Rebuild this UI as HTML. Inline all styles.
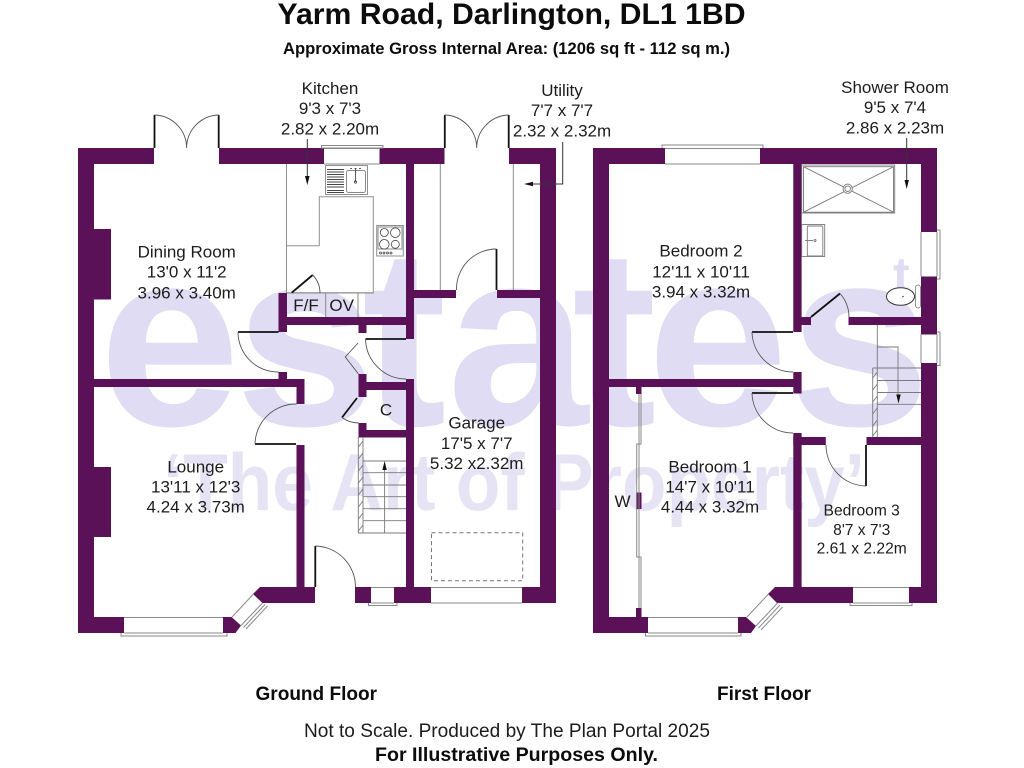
<!DOCTYPE html>
<html><head><meta charset="utf-8"><style>
html,body{margin:0;padding:0;background:#fff;width:1024px;height:768px;overflow:hidden}
svg{display:block}
text{font-family:"Liberation Sans",Arial,sans-serif;fill:#1c1c1c}
.l{font-size:17px;text-anchor:middle}
.b{font-weight:bold;fill:#0c0c0c}
.w{fill:#5a1158;stroke:none}
.t{fill:none;stroke:#8a8a8a;stroke-width:1}
.d{fill:none;stroke:#555;stroke-width:.9}
.g{fill:none;stroke:#7a7a7a;stroke-width:.9}
.k{fill:none;stroke:#111;stroke-width:1.8}
.u{fill:#fff;stroke:#8f8f8f;stroke-width:1}
.wm{fill:#dfdcf3;font-weight:bold;font-size:254px}
.wm2{fill:#e6e4f4;font-weight:bold;font-size:81px}
</style></head><body>
<svg width="1024" height="768" viewBox="0 0 1024 768" xmlns="http://www.w3.org/2000/svg">
<rect width="1024" height="768" fill="#fff"/>
<!-- watermark -->
<text class="wm" y="425" x="99 235 362 447 572 647 789">estates</text>
<text class="wm" style="font-size:50px" x="893" y="292">t</text>
<text class="wm2" x="163" y="510" textLength="702" lengthAdjust="spacingAndGlyphs">‘The Art of Property’</text>

<!-- GROUND FLOOR units -->
<path class="u" d="M286.5 164V245.7H319.3V196.7H373.3V292.7H286.5V245.7"/>
<path class="t" d="M325.7 293V317M358 293V317M373.3 293H286"/>
<!-- sink -->
<rect class="u" x="325.5" y="165.5" width="42" height="29"/>
<path stroke="#444" stroke-width="1" fill="none" d="M327 169.5H344M327 172H344M327 174.5H344M327 177H344M327 179.5H344M327 182H344M327 184.5H344M327 187H344M327 190.5H344M327 192.5H344"/>
<rect class="t" x="346.5" y="170.5" width="19" height="22" rx="2" stroke="#444"/>
<path stroke="#333" stroke-width=".8" fill="none" d="M355.5 168V182M350 168.5h2M354.5 168.5h2M359 168.5h2"/>
<circle cx="355.5" cy="182" r="1.2" fill="none" stroke="#333" stroke-width=".7"/>
<!-- hob -->
<rect class="u" x="376.7" y="225.5" width="26.6" height="30.5"/>
<rect class="t" x="378" y="227" width="24" height="22" stroke="#777" stroke-width=".6"/>
<g fill="none" stroke="#444" stroke-width=".8">
<circle cx="384.3" cy="232.5" r="4"/><circle cx="395.3" cy="232.7" r="4.8"/><circle cx="384.3" cy="244.3" r="4.8"/><circle cx="395.3" cy="244.3" r="4"/>
<circle cx="380.5" cy="253" r="1"/><circle cx="384" cy="253" r="1"/><circle cx="387.5" cy="253" r="1"/><circle cx="391" cy="253" r="1"/>
</g>

<!-- Ground walls -->
<g class="w">
<path d="M78 148H154V164H94V617H124V633H78Z"/>
<rect x="94" y="229" width="17" height="70.5"/>
<rect x="94" y="467" width="17" height="70"/>
<rect x="219" y="148" width="105" height="16"/>
<rect x="379.5" y="148" width="65" height="16"/>
<path d="M509 148H556V603H522V587H540V164H509Z"/>
<rect x="406" y="164" width="8" height="175"/>
<rect x="406" y="379" width="8" height="224"/>
<rect x="414" y="290" width="42" height="8"/>
<rect x="497" y="290" width="43" height="8"/>
<rect x="355" y="587" width="16" height="16"/>
<rect x="394" y="587" width="37" height="16"/>
<rect x="278.5" y="293" width="8.5" height="39"/>
<rect x="287" y="317" width="119" height="8"/>
<rect x="358.5" y="325" width="8" height="8"/>
<rect x="94" y="379" width="210" height="8"/>
<rect x="278.5" y="372" width="8.5" height="8"/>
<rect x="296.5" y="379" width="8" height="25"/>
<rect x="296.5" y="445" width="8" height="142"/>
<path d="M260 587H315V603H262.5L253 594Z"/>
<path d="M223 617H231.5L241 625.5L235.5 633H223Z"/>
<rect x="358.5" y="374" width="8" height="23"/>
<rect x="366" y="382" width="41" height="8"/>
<rect x="358.5" y="423" width="8" height="14.5"/>
<rect x="358.5" y="430" width="48" height="7.5"/>
</g>

<!-- Ground windows -->
<g class="t">
<path d="M324 148.5H380M321.5 145.5H383V148H321.5Z M324 164H380"/>
<path d="M124 617.5H223M124 633H223M121 633V636H227V633"/>
<path d="M371 587.5H394M371 603H394M368.5 603V605.5H397V603"/>
<path d="M431 587.5H522M431 603H522"/>
<path d="M232 617L253.5 594M241 625.5L262.5 603M243.5 627.5L265 604.5M246 629L267.5 606"/>
</g>
<!-- french doors -->
<g class="k"><path d="M154.5 115V148M218.7 115V148M444.8 115V148M508.7 115V148"/></g>
<g class="d">
<path d="M154.5 115A33 33 0 0 1 186.6 148M218.7 115A33 33 0 0 0 186.6 148"/>
<path d="M444.8 115A33 33 0 0 1 476.7 148M508.7 115A33 33 0 0 0 476.7 148"/>
</g>
<!-- interior doors -->
<g class="k">
<path d="M496.5 249V290"/>
<path d="M238 332H278.5"/>
<path d="M255 444H296"/>
<path d="M365.5 339H406"/>
<path d="M342 417.5L357 398"/>
<path d="M291.7 292.7L312.7 275"/>
<path d="M315.3 546V587"/>
</g>
<g class="d">
<path d="M496.5 249A40 40 0 0 0 456.5 290"/>
<path d="M238 332A40 40 0 0 0 278.5 372"/>
<path d="M296.5 404A41 41 0 0 0 255 444"/>
<path d="M365.5 339A41 41 0 0 0 406 379"/>
<path d="M342 417.5A28 28 0 0 0 359 423"/>
<path d="M312.7 275A26 26 0 0 1 320 293"/>
<path d="M315.3 546A41 41 0 0 1 355.5 587"/>
<path d="M358 343L345.3 357L358.5 374"/>
</g>
<!-- utility lines -->
<path class="t" d="M440.3 164V290M513.3 164V290"/>
<!-- stairs ground -->
<g class="g">
<path d="M358.3 437V533H406M363 437V533M363 461H406M363 472.7H406M363 485H406M363 496.7H406M363 508.7H406M363 520.7H406M384.6 533V466"/>
<path d="M358.3 447L363 441M358.3 459L363 453M358.3 471L363 465M358.3 483L363 477M358.3 495L363 489M358.3 507L363 501M358.3 519L363 513M358.3 531L363 525"/>
</g>
<path d="M384.6 461L382.4 470H386.8Z" fill="#111"/>
<!-- garage dashed -->
<rect x="431.5" y="532.7" width="91.2" height="48" fill="none" stroke="#777" stroke-width="1" stroke-dasharray="4 3"/>
<!-- arrows -->
<path d="M307.3 139V182" stroke="#333" stroke-width="1" fill="none"/>
<path d="M307.3 185L305 176H309.6Z" fill="#111"/>
<path d="M562.7 142V184H530" stroke="#333" stroke-width="1" fill="none"/>
<path d="M524 184L533 181.8V186.2Z" fill="#111"/>

<!-- FIRST FLOOR -->
<g class="w">
<path d="M593 148H665V164H609V617H648V633H593Z"/>
<path d="M760 148H937V232H921V164H760Z"/>
<rect x="921" y="276.5" width="16" height="58"/>
<path d="M921 363H937V603H909V587H921Z"/>
<rect x="793.3" y="164" width="8.3" height="168"/>
<rect x="801" y="317" width="10" height="8"/>
<rect x="848.5" y="317" width="73" height="8"/>
<rect x="793.3" y="372" width="8.3" height="21.5"/>
<rect x="609" y="379" width="185" height="8"/>
<rect x="636" y="387" width="5.5" height="7"/>
<rect x="636" y="492.5" width="5.5" height="16.5"/>
<rect x="636" y="608" width="5.5" height="9"/>
<rect x="793.3" y="433" width="8.3" height="155"/>
<rect x="793.3" y="437" width="32.5" height="8"/>
<rect x="866.5" y="437" width="55" height="8"/>
<path d="M775 587H853V603H777L768 594Z"/>
<path d="M738 617H746L756 626L751 633H738Z"/>
</g>
<g class="t">
<path d="M665 148.5H760M665 164H760M662 148V145H763V148"/>
<path d="M921 232V276.5M937 232V276.5M937 230H940V279H937"/>
<path d="M921 334V363M937 334V363M937 332H940V365.5H937"/>
<path d="M648 617.5H738M648 633H738M645.5 633V636H741V633"/>
<path d="M853 587.5H909M853 603H909M850 603V605.5H912V603"/>
<path d="M747 617L768.5 594M756 626L777.5 603M758.5 628L780 605M761 630L782.5 607"/>
<path d="M639 394V444H636.7V557H639V608M641 394V444H639V557H641V608"/>
</g>
<!-- first doors -->
<g class="k">
<path d="M752 332H793"/>
<path d="M752 393H793"/>
<path d="M866 445V486"/>
<path d="M811 317L840 293.5"/>
</g>
<g class="d">
<path d="M752 332A41 41 0 0 0 793 372"/>
<path d="M752 393A41 41 0 0 0 793 433"/>
<path d="M866 486A41 41 0 0 1 826 445"/>
<path d="M840 293.5A36 36 0 0 1 849 317"/>
</g>
<!-- shower -->
<g class="g">
<rect x="801.7" y="165" width="93" height="48"/>
<rect x="803.5" y="166.7" width="90" height="45.5"/>
<path d="M803.5 166.7L893.5 212.2M803.5 212.2L893.5 166.7"/>
<circle cx="847.7" cy="188.7" r="4.6" fill="#fff"/><circle cx="847.7" cy="188.7" r="2.8"/>
<rect x="801.7" y="224.5" width="23" height="32"/>
<rect x="807.3" y="226" width="15.5" height="30" rx="1"/>
<path d="M805 240.5H813"/><circle cx="815" cy="240.5" r="1"/>
</g>
<ellipse cx="900.5" cy="296.5" rx="14" ry="8.7" fill="#fff" stroke="#333" stroke-width="1"/>
<rect x="915.5" y="285" width="5" height="23" rx="2.5" fill="#fff" stroke="#777" stroke-width=".8"/>
<circle cx="903" cy="296.5" r=".8" fill="#444"/>
<!-- stairs first -->
<g class="g">
<path d="M877.3 325V437M872.7 368V437M872.7 368H921M877.3 380.5H921M877.3 392.5H921M877.3 404.3H921M877.3 347H898V398"/>
<path d="M872.7 378L877.3 372M872.7 390L877.3 384M872.7 402L877.3 396M872.7 414L877.3 408M872.7 426L877.3 420M872.7 436L877.3 430"/>
</g>
<path d="M898.5 403.5L896.3 394.5H900.7Z" fill="#111"/>
<path d="M906.7 138V182" stroke="#333" stroke-width="1" fill="none"/>
<path d="M906.7 189L904.5 180H908.9Z" fill="#111"/>

<!-- LABELS -->
<text class="b" x="277.5" y="24" font-size="30" textLength="468" lengthAdjust="spacingAndGlyphs">Yarm Road, Darlington, DL1 1BD</text>
<text class="b" x="283" y="54" font-size="16.5" textLength="447" lengthAdjust="spacingAndGlyphs">Approximate Gross Internal Area: (1206 sq ft - 112 sq m.)</text>

<g>
<text class="l" x="330" y="94">Kitchen</text><text class="l" x="330" y="114">9'3 x 7'3</text><text class="l" x="330" y="134.5">2.82 x 2.20m</text>
<text class="l" x="562" y="96">Utility</text><text class="l" x="562" y="116">7'7 x 7'7</text><text class="l" x="562" y="136.5">2.32 x 2.32m</text>
<text class="l" x="895" y="93">Shower Room</text><text class="l" x="895" y="113">9'5 x 7'4</text><text class="l" x="895" y="133.5">2.86 x 2.23m</text>
<text class="l" x="186.7" y="257.3">Dining Room</text><text class="l" x="186.7" y="277.7">13'0 x 11'2</text><text class="l" x="186.7" y="298.3">3.96 x 3.40m</text>
<text class="l" x="195.7" y="472.7">Lounge</text><text class="l" x="195.7" y="492.7">13'11 x 12'3</text><text class="l" x="195.7" y="512.7">4.24 x 3.73m</text>
<text class="l" x="476.7" y="428.3">Garage</text><text class="l" x="476.7" y="449">17'5 x 7'7</text><text class="l" x="476.7" y="469">5.32 x2.32m</text>
<text class="l" x="701" y="256.7">Bedroom 2</text><text class="l" x="701" y="277.3">12'11 x 10'11</text><text class="l" x="701" y="297.7">3.94 x 3.32m</text>
<text class="l" x="710" y="472.3">Bedroom 1</text><text class="l" x="710" y="492.3">14'7 x 10'11</text><text class="l" x="710" y="512.3">4.44 x 3.32m</text>
<text class="l" x="861.7" y="515.7" style="font-size:15.6px">Bedroom 3</text><text class="l" x="861.7" y="535" style="font-size:15.6px">8'7 x 7'3</text><text class="l" x="861.7" y="553.5" style="font-size:15.6px">2.61 x 2.22m</text>
<text class="l" x="622.5" y="507">W</text>
<text class="l" x="306" y="311">F/F</text><text class="l" x="341.7" y="311">OV</text>
<text class="l" x="386" y="415.3">C</text>
</g>

<text class="b" x="255.5" y="700" font-size="19" textLength="121.5" lengthAdjust="spacingAndGlyphs">Ground Floor</text>
<text class="b" x="717" y="700" font-size="19" textLength="94" lengthAdjust="spacingAndGlyphs">First Floor</text>
<text x="304" y="737" font-size="19" textLength="406" lengthAdjust="spacingAndGlyphs">Not to Scale. Produced by The Plan Portal 2025</text>
<text class="b" x="375" y="761" font-size="19.5" textLength="283" lengthAdjust="spacingAndGlyphs">For Illustrative Purposes Only.</text>
</svg>
</body></html>
